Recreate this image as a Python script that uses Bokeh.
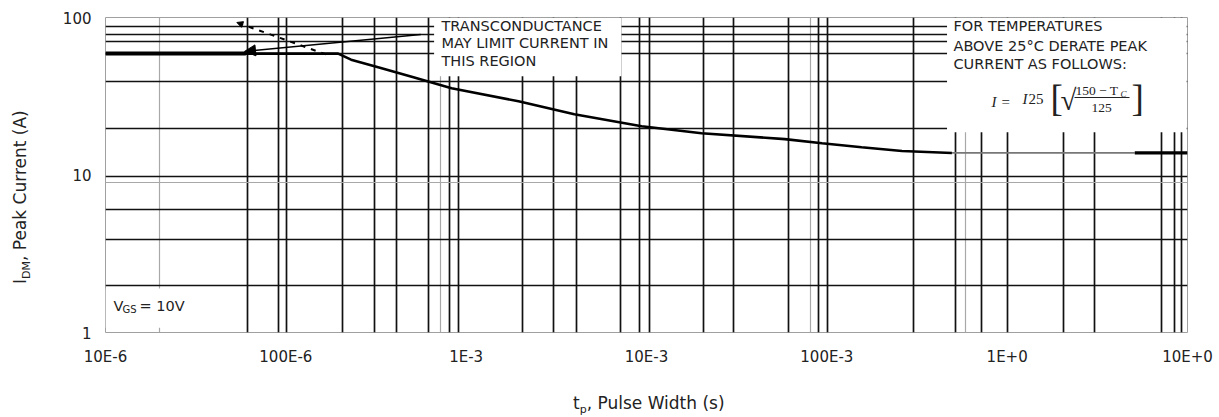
from bokeh.plotting import figure
from bokeh.models import (Range1d, FixedTicker, CustomJSTickFormatter, BoxAnnotation,
                          Label, Arrow, NormalHead, Div)
from bokeh.layouts import row, column
from bokeh.embed import file_html
from bokeh.resources import INLINE

# ---------------- data ----------------
pulse_width_s = [1e-5, 1.95e-4, 2.3e-4, 3.25e-4, 5.1e-4, 8.3e-4, 1.95e-3, 3.98e-3,
                 9.4e-3, 2.02e-2, 5.85e-2, 9.4e-2, 0.156, 0.261, 0.494]
peak_current_a = [59, 59, 54, 48.3, 41.7, 35.5, 29.4, 24.3,
                  20.4, 18.4, 16.9, 15.9, 15.0, 14.2, 13.8]
tail_pulse_s = [0.494, 5.1]
tail_current_a = [13.8, 13.8]
end_pulse_s = [5.1, 10]
end_current_a = [13.8, 13.8]
start_pulse_s = [1e-5, 6.0e-5]
start_current_a = [59, 59]
transcond_pulse_s = [1.67e-4, 5.35e-5]
transcond_current_a = [58.3, 93]
leader_pulse_s = [5.6e-4, 5.9e-5]
leader_current_a = [78, 60.9]

x_tick_values = [1e-5, 1e-4, 1e-3, 1e-2, 1e-1, 1, 10]
x_tick_labels = ["10E-6", "100E-6", "1E-3", "10E-3", "100E-3", "1E+0", "10E+0"]
y_tick_values = [1, 10, 100]
y_tick_labels = ["1", "10", "100"]

x_grid_dark = [6.1e-5, 9.1e-5, 1.01e-4, 2.05e-4, 3.1e-4, 4.1e-4, 6.15e-4, 8.05e-4, 9.1e-4,
               2.05e-3, 3.05e-3, 4.1e-3, 7.2e-3, 9.1e-3, 1.04e-2, 2.07e-2, 3.05e-2,
               6.15e-2, 9.0e-2, 0.101, 0.304, 0.52, 0.72, 1.01, 2.05, 3.04, 7.2, 8.5, 9.3]
x_grid_light = [2.0e-5, 7.2e-4, 8.15e-2, 0.59]
y_grid_dark = [88, 78, 70.5, 59, 39.4, 19.6, 9.75, 6.0, 3.9, 2.0]
y_grid_light = [8.9]

# ---------------- layout sizes ----------------
PAGE_W, PAGE_H = 1219, 417
YDIV_W = 45
FIG_H = 380
FRAME_LEFT, FRAME_TOP, FRAME_RIGHT, FRAME_BOTTOM = 105, 17, 1187, 332  # page pixels

p = figure(width=PAGE_W - YDIV_W, height=FIG_H, x_axis_type="log", y_axis_type="log",
           x_range=Range1d(1e-5, 10), y_range=Range1d(1, 100),
           output_backend="svg", toolbar_location=None,
           min_border_left=FRAME_LEFT - YDIV_W, min_border_right=PAGE_W - FRAME_RIGHT,
           min_border_top=FRAME_TOP, min_border_bottom=FIG_H - FRAME_BOTTOM)
p.background_fill_color = "white"
p.border_fill_color = "white"
p.outline_line_color = "#a0a0a0"
p.outline_line_width = 1

fmt_code = """
    let best = 0, bd = 1e9;
    for (let i = 0; i < vals.length; i++) {
        const d = Math.abs(Math.log10(tick) - Math.log10(vals[i]));
        if (d < bd) { bd = d; best = i; }
    }
    return labels[best];
"""
p.xaxis.ticker = FixedTicker(ticks=x_tick_values)
p.yaxis.ticker = FixedTicker(ticks=y_tick_values)
p.xaxis.formatter = CustomJSTickFormatter(args=dict(vals=x_tick_values, labels=x_tick_labels), code=fmt_code)
p.yaxis.formatter = CustomJSTickFormatter(args=dict(vals=y_tick_values, labels=y_tick_labels), code=fmt_code)
for ax in (p.xaxis, p.yaxis):
    ax.axis_line_color = None
    ax.major_tick_line_color = None
    ax.minor_tick_line_color = None
    ax.major_tick_out = 0
    ax.major_tick_in = 0
    ax.major_label_text_font = "DejaVu Sans"
    ax.major_label_text_font_size = "15px"
    ax.major_label_text_color = "#222222"
p.xaxis.major_label_standoff = 15
p.yaxis.major_label_standoff = 14

p.xgrid.ticker = FixedTicker(ticks=x_grid_dark, minor_ticks=x_grid_light)
p.ygrid.ticker = FixedTicker(ticks=y_grid_dark, minor_ticks=y_grid_light)
for g in (p.xgrid, p.ygrid):
    g.grid_line_color = "#111111"
    g.grid_line_width = 1.7
    g.minor_grid_line_color = "#a8a8a8"
    g.minor_grid_line_width = 1.2

# ---------------- curve ----------------
p.line(pulse_width_s, peak_current_a, line_color="black", line_width=2.6)
p.line(tail_pulse_s, tail_current_a, line_color="#777777", line_width=1.8)
p.line(end_pulse_s, end_current_a, line_color="black", line_width=3.2)
p.line(start_pulse_s, start_current_a, line_color="black", line_width=4)

# ---------------- white text boxes over the grid ----------------
for (l, r, b, t) in [(6.64e-4, 7.26e-3, 42.3, 99.3), (0.464, 9.9, 18.7, 99.3), (1.0e-5, 5.6e-5, 1.07, 1.9)]:
    p.add_layout(BoxAnnotation(left=l, right=r, bottom=b, top=t, fill_color="white",
                               fill_alpha=1.0, line_color=None))

# ---------------- leader lines ----------------
p.add_layout(Arrow(x_start=leader_pulse_s[0], y_start=leader_current_a[0],
                   x_end=leader_pulse_s[1], y_end=leader_current_a[1],
                   line_color="black", line_width=1.5,
                   end=NormalHead(size=11, fill_color="black", line_color="black")))
p.add_layout(Arrow(x_start=transcond_pulse_s[0], y_start=transcond_current_a[0],
                   x_end=transcond_pulse_s[1], y_end=transcond_current_a[1],
                   line_color="black", line_width=2, line_dash="5 6",
                   end=NormalHead(size=6, fill_color="black", line_color="black")))


def lab(text, px, py, size="14.5px", font="DejaVu Sans", align="left", baseline="middle",
        angle=0.0, style="normal", color="#222222"):
    p.add_layout(Label(x=px - FRAME_LEFT, y=FRAME_BOTTOM - py, x_units="screen", y_units="screen",
                       text=text, text_font=font, text_font_size=size, text_align=align,
                       text_baseline=baseline, angle=angle, text_font_style=style,
                       text_color=color))


lab("TRANSCONDUCTANCE", 441, 25)
lab("MAY LIMIT CURRENT IN", 441, 42)
lab("THIS REGION", 441, 60)
lab("FOR TEMPERATURES", 953, 25)
lab("ABOVE 25°C DERATE PEAK", 953, 45)
lab("CURRENT AS FOLLOWS:", 953, 63)

# formula  I = I25 [ sqrt((150 - TC)/125) ]
serif = "Liberation Serif"
lab("I", 991, 101, size="15px", font=serif, style="italic")
lab("=", 1001, 101, size="15px", font=serif)
lab("I", 1022, 98, size="15px", font=serif, style="italic")
lab("25", 1028, 98, size="15px", font=serif)
lab("[", 1050, 98, size="37px", font=serif)
lab("√", 1060, 99, size="29px", font=serif)
lab("150 − T", 1075, 90, size="13.5px", font=serif)
lab("C", 1120, 93, size="9px", font=serif, style="italic")
lab("125", 1101, 107, size="13.5px", font=serif, align="center")
lab("]", 1131, 98, size="37px", font=serif)
p.add_layout(BoxAnnotation(left=1074 - FRAME_LEFT, right=1129 - FRAME_LEFT,
                           bottom=FRAME_BOTTOM - 97.5, top=FRAME_BOTTOM - 96.5,
                           left_units="screen", right_units="screen",
                           bottom_units="screen", top_units="screen",
                           fill_color="#222222", fill_alpha=1.0, line_color=None))

# V_GS = 10V
lab("V", 113, 305, size="14.5px")
lab("GS", 122, 309, size="10px")
lab("= 10V", 139, 305, size="14.5px")

# ---------------- axis titles (HTML, with real subscripts) ----------------
font_css = "font-family:'DejaVu Sans'; font-size:17px; line-height:20px; color:#222; white-space:nowrap;"
sub_css = "font-size:11px; line-height:0; vertical-align:-4px;"
ydiv = Div(width=YDIV_W, height=FIG_H, margin=0,
           text=(f'<div style="position:relative; left:10px; top:284px; width:200px; height:20px; '
                 f'transform-origin:0 0; transform:rotate(-90deg); {font_css}">'
                 f'I<span style="{sub_css}">DM</span>, Peak Current (A)</div>'))
xdiv = Div(width=PAGE_W, height=PAGE_H - FIG_H, margin=0,
           text=(f'<div style="position:relative; left:573px; top:13px; {font_css}">'
                 f't<span style="{sub_css}">p</span>, Pulse Width (s)</div>'))

layout = column(row(ydiv, p, spacing=0), xdiv, spacing=0)

open("out.html", "w").write(file_html(layout, INLINE))
